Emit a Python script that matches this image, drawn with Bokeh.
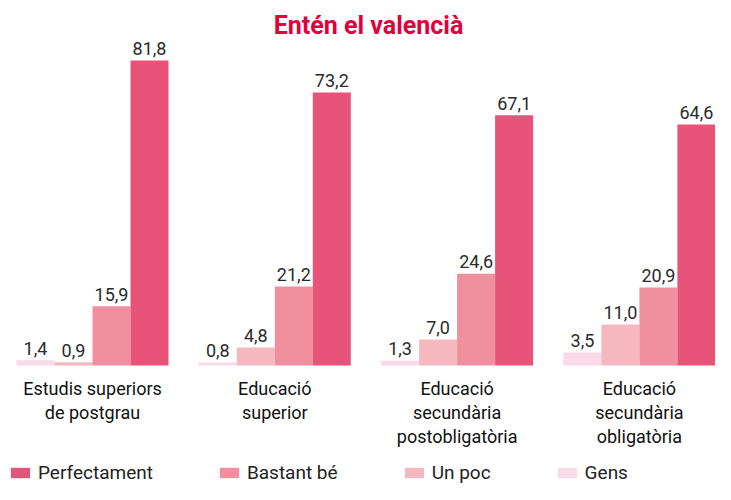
from bokeh.plotting import figure
from bokeh.models import ColumnDataSource, Range1d, Legend, LegendItem, Label
from bokeh.transform import dodge
from bokeh.core.properties import value
from bokeh.embed import file_html
from bokeh.resources import INLINE

# ---- data ----
categories = [
    "Estudis superiors\nde postgrau",
    "Educació\nsuperior",
    "Educació\nsecundària\npostobligatòria",
    "Educació\nsecundària\nobligatòria",
]
perfectament = [81.8, 73.2, 67.1, 64.6]
bastant_be = [15.9, 21.2, 24.6, 20.9]
un_poc = [0.9, 4.8, 7.0, 11.0]
gens = [1.4, 0.8, 1.3, 3.5]
series_names = ["Gens", "Un poc", "Bastant bé", "Perfectament"]
title_text = "Entén el valencià"

colors = ["#F9DAE6", "#F5B8BF", "#F0909F", "#E8537A"]
FONT = "Roboto"


def fmt(v):
    return f"{v:.1f}".replace(".", ",")


series = [gens, un_poc, bastant_be, perfectament]
keys = ["gens", "un_poc", "bastant", "perf"]
data = dict(x=list(range(len(categories))), cat=categories)
for k, s in zip(keys, series):
    data[k] = s
    data[k + "_lbl"] = [fmt(v) for v in s]
source = ColumnDataSource(data)

W, H = 715, 484
p = figure(width=W, height=H, output_backend="svg", toolbar_location=None,
           x_axis_type=None, y_axis_type=None,
           min_border_left=0, min_border_right=0, min_border_top=0, min_border_bottom=0)
p.outline_line_color = None
p.xgrid.visible = False
p.ygrid.visible = False
p.background_fill_color = "white"

pitch = 182.3   # px per group
x0 = 92.0       # px of first group center
p.x_range = Range1d(-x0 / pitch, (W - x0) / pitch)
ppu = 3.73      # px per percent
base = 365.0    # px from top of baseline
p.y_range = Range1d(-(H - base) / ppu, base / ppu)

bw = 38.0 / pitch
renderers = []
for i, (k, c) in enumerate(zip(keys, colors)):
    off = (i - 1.5) * bw
    r = p.vbar(x=dodge("x", off, range=p.x_range), top=k, width=bw, bottom=0,
               source=source, fill_color=c, line_color=None)
    renderers.append(r)
    p.text(x=dodge("x", off, range=p.x_range), y=k, text=k + "_lbl", source=source,
           text_font=value(FONT), text_font_size="18px", text_color="#2a2a2a",
           text_align="center", text_baseline="alphabetic", y_offset=-12)

p.text(x="x", y=0, text="cat", source=source, text_font=value(FONT),
       text_font_size="18px", text_color="#111111", text_align="center",
       text_baseline="top", y_offset=12, text_line_height=1.16)

title = Label(x=368, y=H - 25, x_units="screen", y_units="screen", text=title_text,
              text_font=FONT, text_font_size="25px", text_font_style="bold",
              text_color="#E2003A", text_align="center", text_baseline="alphabetic")
p.add_layout(title)

items = [LegendItem(label=series_names[i], renderers=[renderers[i]]) for i in [3, 2, 1, 0]]
legend = Legend(items=items, orientation="horizontal", location=(8, 0),
                glyph_width=24, glyph_height=13, label_standoff=6, spacing=64,
                label_text_font=FONT, label_text_font_size="19px",
                label_text_color="#222222", padding=0, margin=0,
                border_line_color=None, background_fill_alpha=0, label_height=20)
p.add_layout(legend, "center")

open("out.html", "w").write(file_html(p, INLINE))
